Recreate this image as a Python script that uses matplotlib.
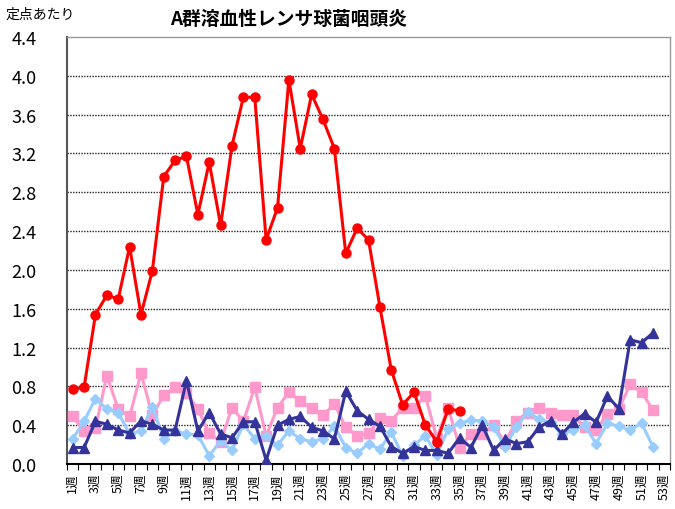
import matplotlib
matplotlib.use("Agg")
import matplotlib.pyplot as plt
import numpy as np

plt.rcParams['font.family'] = ['Noto Sans CJK JP', 'DejaVu Sans']

title = "A群溶血性レンサ球菌咽頭炎"
ylabel = "定点あたり"
weeks = list(range(1, 54))
week_labels = [f"{w}週" for w in weeks]
yticks = [0.0, 0.4, 0.8, 1.2, 1.6, 2.0, 2.4, 2.8, 3.2, 3.6, 4.0, 4.4]

# current year (weeks 1-35)
red = [0.77, 0.79, 1.54, 1.74, 1.70, 2.24, 1.54, 1.99, 2.96, 3.13, 3.17, 2.57,
       3.11, 2.46, 3.28, 3.78, 3.78, 2.31, 2.64, 3.96, 3.25, 3.81, 3.55, 3.25,
       2.17, 2.43, 2.31, 1.62, 0.97, 0.61, 0.74, 0.40, 0.23, 0.565, 0.55]

pink = [0.49, 0.34, 0.37, 0.91, 0.565, 0.49, 0.935, 0.50, 0.71, 0.79, 0.73, 0.565,
        0.32, 0.23, 0.58, 0.44, 0.79, 0.29, 0.58, 0.74, 0.645, 0.58, 0.50, 0.62,
        0.38, 0.29, 0.315, 0.47, 0.445, 0.58, 0.58, 0.70, 0.27, 0.58, 0.17, 0.31,
        0.31, 0.40, 0.22, 0.445, 0.53, 0.58, 0.53, 0.50, 0.50, 0.38, 0.35, 0.52,
        0.565, 0.82, 0.74, 0.56]

lightblue = [0.26, 0.44, 0.675, 0.565, 0.53, 0.31, 0.34, 0.59, 0.26, 0.34, 0.31, 0.30,
             0.085, 0.24, 0.14, 0.41, 0.26, 0.285, 0.195, 0.34, 0.26, 0.23, 0.26, 0.39,
             0.17, 0.11, 0.21, 0.15, 0.33, 0.085, 0.195, 0.29, 0.09, 0.36, 0.42, 0.45,
             0.445, 0.38, 0.18, 0.38, 0.54, 0.46, 0.43, 0.31, 0.35, 0.40, 0.21, 0.42,
             0.39, 0.35, 0.42, 0.18]

navy = [0.17, 0.17, 0.44, 0.41, 0.35, 0.32, 0.445, 0.41, 0.35, 0.35, 0.86, 0.34,
        0.53, 0.31, 0.27, 0.435, 0.435, 0.04, 0.40, 0.46, 0.49, 0.38, 0.34, 0.26,
        0.75, 0.55, 0.46, 0.39, 0.18, 0.11, 0.18, 0.14, 0.14, 0.11, 0.27, 0.17,
        0.40, 0.14, 0.26, 0.21, 0.23, 0.38, 0.445, 0.31, 0.43, 0.52, 0.43, 0.70,
        0.57, 1.28, 1.25, 1.35]

fig = plt.figure(figsize=(6.75, 5.1), dpi=100)
ax = fig.add_axes([0.0993, 0.0882, 0.8933, 0.8373])

lw = 2.2
ax.plot(weeks[:len(pink)], pink, color='#FF99CC', lw=lw, marker='s', ms=6.5, zorder=3)
ax.plot(weeks[:len(lightblue)], lightblue, color='#99CCFF', lw=lw, marker='D', ms=5.5, zorder=4)
ax.plot(weeks[:len(navy)], navy, color='#333399', lw=lw, marker='^', ms=7, zorder=5)
ax.plot(weeks[:len(red)], red, color='#FF0000', lw=lw, marker='o', ms=6.5, zorder=6)

ax.set_xlim(0.5, 53.5)
ax.set_ylim(0, 4.4)
ax.set_yticks(yticks)
ax.set_yticklabels([f"{v:.1f}" for v in yticks], fontsize=13)
ax.tick_params(axis='y', length=0, pad=22)

for v in yticks[1:-1]:
    ax.axhline(v, color='#222222', lw=1.0, ls=(0, (1, 1)), zorder=1)

# category boundaries as tick marks, odd-week labels
ax.set_xticks(np.arange(0.5, 54.0, 1.0))
ax.set_xticklabels([])
ax.tick_params(axis='x', which='major', length=4, direction='out', color='black')
ax.set_xticks([w for w in weeks if w % 2 == 1], minor=True)
ax.set_xticklabels([week_labels[w - 1] for w in weeks if w % 2 == 1], minor=True,
                   rotation=90, fontsize=9)
ax.tick_params(axis='x', which='minor', length=0, pad=6)

for s in ['top', 'right']:
    ax.spines[s].set_color('#999999')
    ax.spines[s].set_linewidth(1.0)
ax.spines['left'].set_color('#555555')
ax.spines['left'].set_linewidth(1.5)
ax.spines['bottom'].set_color('black')
ax.spines['bottom'].set_linewidth(1.5)

fig.text(0.428, 0.962, title, ha='center', va='center', fontsize=13.5, fontweight='bold')
fig.text(0.008, 0.972, ylabel, ha='left', va='center', fontsize=10)

fig.savefig("out.png", dpi=100)
